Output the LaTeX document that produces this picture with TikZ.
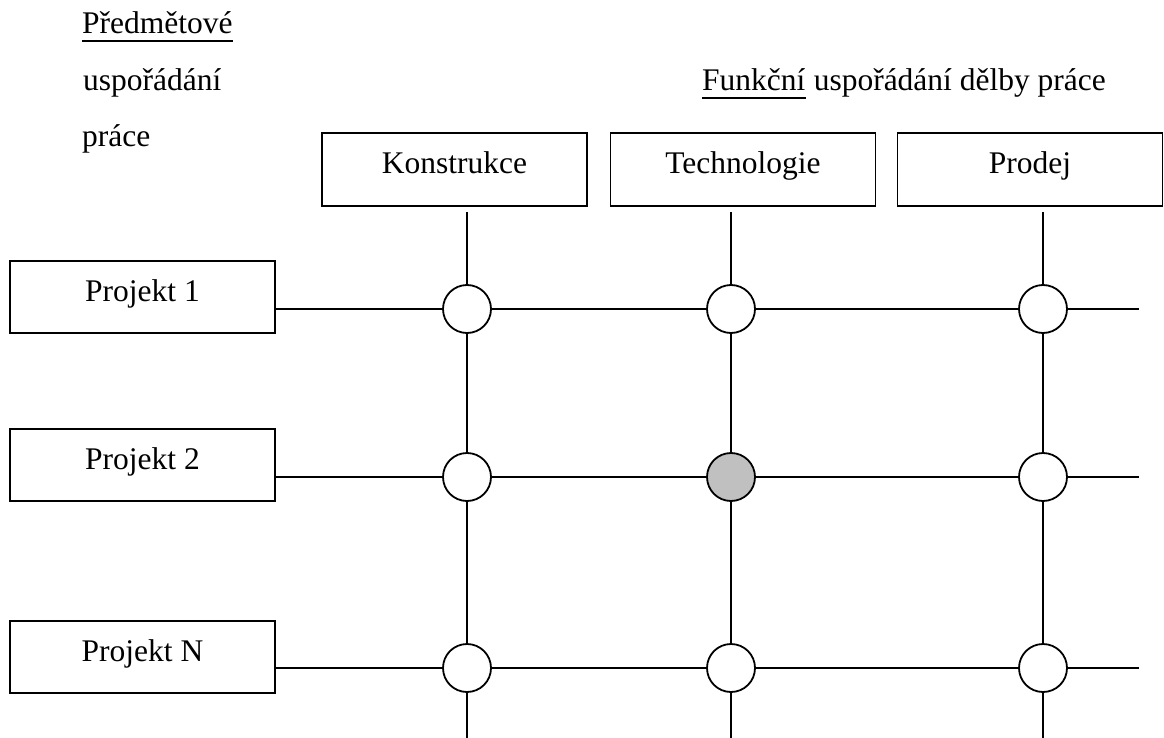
\documentclass[tikz,border=0pt]{standalone}
\usepackage{fontspec}
\setmainfont{Liberation Serif}
\definecolor{silver}{HTML}{C0C0C0}
\begin{document}
\begin{tikzpicture}[x=1pt,y=-1pt,
  every node/.style={font=\fontsize{31.5}{38}\selectfont},
  line/.style={line width=1.8pt},
  unitbox/.style={draw, line width=1.8pt, minimum width=265pt, inner sep=0pt,
                  text height=40.5pt, text depth=32.5pt},
  projbox/.style={unitbox, text height=40pt, text depth=32pt},
  junction/.style={circle, draw, line width=1.8pt, fill=white,
                   minimum size=48pt, inner sep=0pt},
  active/.style={junction, fill=silver},
  caption/.style={inner sep=0pt, anchor=base west},
]
\useasboundingbox (0,0) rectangle (1164,738);

% headings
\node[caption] (pred) at (82,34) {Předmětové};
\node[caption] (pred2) at (83,91) {uspořádání};
\node[caption] (pred3) at (82,147) {práce};
\draw[line] ([yshift=-6.7pt]pred.base west) -- ([yshift=-6.7pt]pred.base east);

\node[caption] (fun) at (702,91) {Funkční};
\node[caption] (fun2) at ([xshift=7.9pt]fun.base east) {uspořádání dělby práce};
\draw[line] ([yshift=-7pt]fun.base west) -- ([yshift=-7pt]fun.base east);

% functional departments
\node[unitbox] (k) at (454.5,169.5) {Konstrukce};
\node[unitbox] (t) at (743,169.5) {Technologie};
\node[unitbox] (s) at (1030,169.5) {Prodej};

% projects
\node[projbox] (p1) at (142.5,297) {Projekt 1};
\node[projbox] (p2) at (142.5,465) {Projekt 2};
\node[projbox] (p3) at (142.5,657) {Projekt N};

% junctions of the matrix
\node[junction] (c11) at (467,309) {};
\node[junction] (c12) at (731,309) {};
\node[junction] (c13) at (1043,309) {};
\node[junction] (c21) at (467,477) {};
\node[active]   (c22) at (731,477) {};
\node[junction] (c23) at (1043,477) {};
\node[junction] (c31) at (467,668) {};
\node[junction] (c32) at (731,668) {};
\node[junction] (c33) at (1043,668) {};

% free ends of the lines
\coordinate (t1) at (467,212);
\coordinate (t2) at (731,212);
\coordinate (t3) at (1043,212);
\coordinate (b1) at (467,738);
\coordinate (b2) at (731,738);
\coordinate (b3) at (1043,738);
\coordinate (e1) at (1139,309);
\coordinate (e2) at (1139,477);
\coordinate (e3) at (1139,668);

% columns
\draw[line] (t1) -- (c11) -- (c21) -- (c31) -- (b1);
\draw[line] (t2) -- (c12) -- (c22) -- (c32) -- (b2);
\draw[line] (t3) -- (c13) -- (c23) -- (c33) -- (b3);

% rows
\draw[line] (p1.east |- c11) -- (c11) -- (c12) -- (c13) -- (e1);
\draw[line] (p2.east |- c21) -- (c21) -- (c22) -- (c23) -- (e2);
\draw[line] (p3.east |- c31) -- (c31) -- (c32) -- (c33) -- (e3);
\end{tikzpicture}
\end{document}
